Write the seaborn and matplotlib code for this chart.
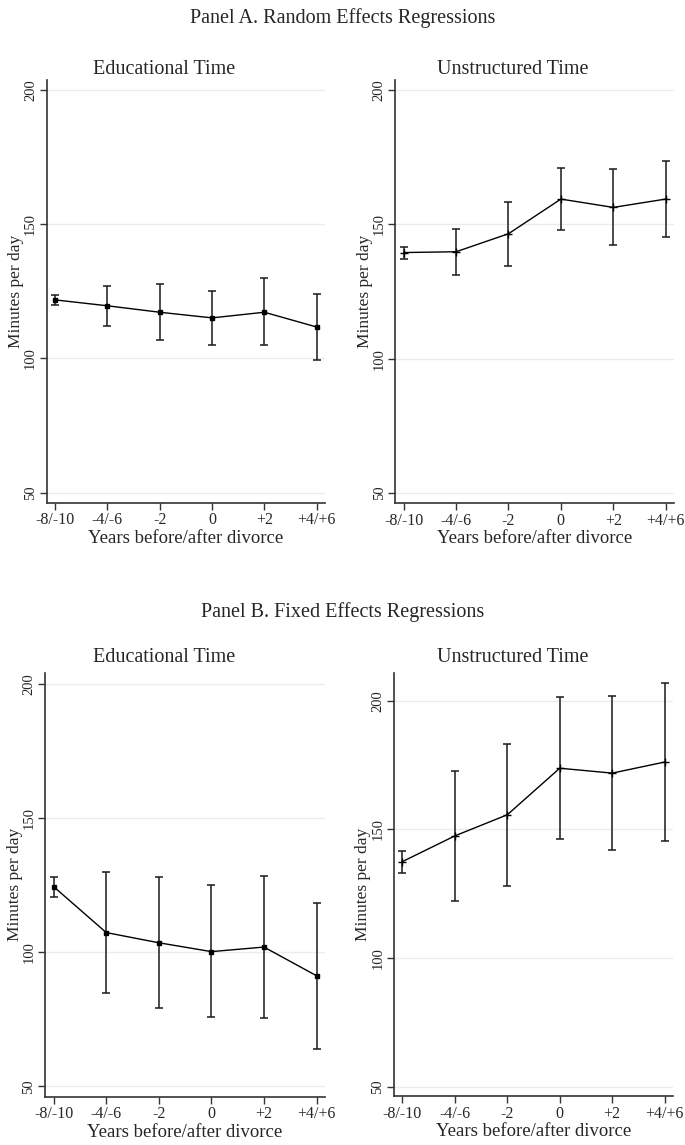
import numpy as np
import pandas as pd
import matplotlib
matplotlib.use('Agg')
import matplotlib.pyplot as plt
import seaborn as sns

# 離婚前後の期間
periods = ['-8/-10', '-4/-6', '-2', '0', '+2', '+4/+6']

# Panel A: random effects (estimate, lower, upper)
re_edu = [121.8, 119.6, 117.2, 115.1, 117.2, 111.7]
re_edu_lo = [119.9, 112.2, 106.9, 105.0, 105.0, 99.4]
re_edu_hi = [123.7, 126.9, 127.7, 125.2, 129.8, 123.9]
re_uns = [139.5, 139.8, 146.5, 159.4, 156.3, 159.4]
re_uns_lo = [137.2, 131.1, 134.6, 147.9, 142.2, 145.3]
re_uns_hi = [141.7, 148.4, 158.2, 171.1, 170.5, 173.7]

# Panel B: fixed effects
fe_edu = [124.4, 107.3, 103.5, 100.2, 101.9, 91.2]
fe_edu_lo = [120.6, 84.8, 79.0, 75.7, 75.4, 63.8]
fe_edu_hi = [128.2, 129.9, 128.0, 124.9, 128.4, 118.3]
fe_uns = [137.5, 147.5, 155.7, 173.8, 171.9, 176.2]
fe_uns_lo = [133.2, 122.1, 128.2, 146.2, 142.2, 145.6]
fe_uns_hi = [141.7, 172.7, 183.1, 201.4, 201.7, 207.0]

yticks = [50, 100, 150, 200]

sns.set_style('white')
plt.rcParams['font.family'] = ['Liberation Serif', 'DejaVu Serif']

fig = plt.figure(figsize=(6.85, 11.45), dpi=100)

#各パネルの位置
axes_specs = [
    ([0.0682, 0.5610, 0.4063, 0.3692], re_edu, re_edu_lo, re_edu_hi, 's', (46.3, 203.7)),
    ([0.5771, 0.5607, 0.4069, 0.3694], re_uns, re_uns_lo, re_uns_hi, '+', (46.3, 203.7)),
    ([0.0661, 0.0422, 0.4083, 0.3700], fe_edu, fe_edu_lo, fe_edu_hi, 's', (46.1, 204.1)),
    ([0.5752, 0.0428, 0.4073, 0.3694], fe_uns, fe_uns_lo, fe_uns_hi, '+', (46.4, 210.8)),
]

pos = np.arange(len(periods))
for rect, est, lo, hi, mk, ylim in axes_specs:
    ax = fig.add_axes(rect)
    df = pd.DataFrame({'pos': pos, 'est': est, 'lo': lo, 'hi': hi})
    for yt in yticks:
        ax.axhline(yt, color='#ececec', lw=1, zorder=0)
    ax.errorbar(df['pos'], df['est'], yerr=[df['est'] - df['lo'], df['hi'] - df['est']],
                fmt='none', ecolor='#1a1a1a', elinewidth=1.1, capsize=2.8, capthick=1.1)
    sns.lineplot(data=df, x='pos', y='est', ax=ax, color='black', lw=1, sort=False,
                 marker=mk, markersize=3 if mk == 's' else 6, markeredgewidth=1,
                 markeredgecolor='black', markerfacecolor='black')
    ax.set_xlim(-0.16, 5.16)
    ax.set_ylim(*ylim)
    ax.set_xticks(pos)
    ax.set_xticklabels(periods, fontsize=11.5)
    ax.set_yticks(yticks)
    ax.set_yticklabels([str(v) for v in yticks], fontsize=10.5, rotation=90, va='center')
    ax.tick_params(axis='both', direction='out', length=5, width=1, color='#333333', pad=2,
                   bottom=True, left=True)
    ax.set_xlabel('Years before/after divorce', fontsize=13.5, labelpad=1)
    ax.set_ylabel('Minutes per day', fontsize=12.5, labelpad=0)
    sns.despine(ax=ax)
    for s in ['left', 'bottom']:
        ax.spines[s].set_color('#333333')
        ax.spines[s].set_linewidth(1.2)
    ax.grid(False)

fig.text(0.5, 1 - 18 / 1145, 'Panel A. Random Effects Regressions', ha='center', va='center', fontsize=14.5)
fig.text(0.5, 1 - 612 / 1145, 'Panel B. Fixed Effects Regressions', ha='center', va='center', fontsize=14.5)
fig.text(164 / 685, 1 - 70 / 1145, 'Educational Time', ha='center', va='center', fontsize=14.5)
fig.text(513 / 685, 1 - 70 / 1145, 'Unstructured Time', ha='center', va='center', fontsize=14.5)
fig.text(164 / 685, 1 - 658 / 1145, 'Educational Time', ha='center', va='center', fontsize=14.5)
fig.text(513 / 685, 1 - 658 / 1145, 'Unstructured Time', ha='center', va='center', fontsize=14.5)

plt.savefig('out.png', dpi=100)
plt.close('all')
